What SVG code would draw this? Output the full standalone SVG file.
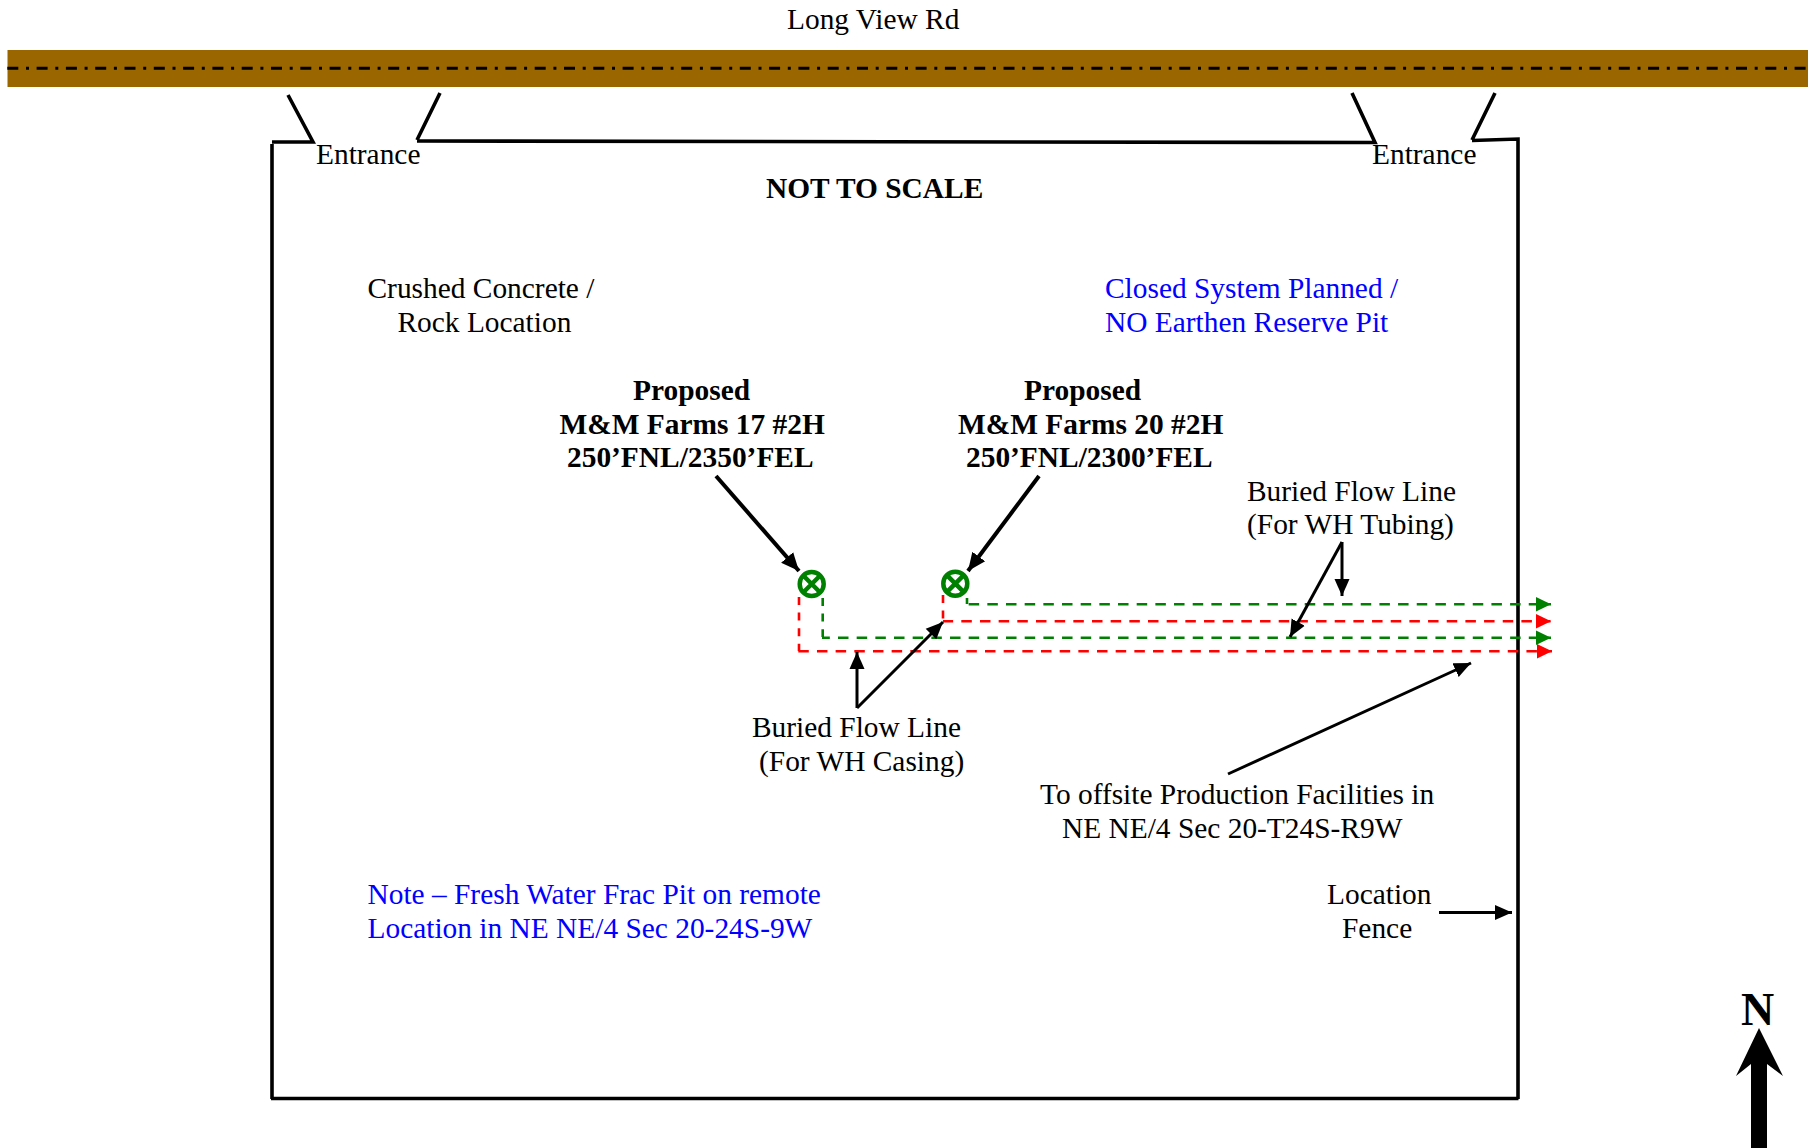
<svg xmlns="http://www.w3.org/2000/svg" width="1814" height="1148" viewBox="0 0 1814 1148">
<style>
text{font-family:"Liberation Serif","Times New Roman",serif;font-size:29.400px;fill:#000}
.b{font-weight:bold}
.blue{fill:#00f}
.fence{stroke:#000;stroke-width:3.600;fill:none;stroke-linecap:butt}
.ar{stroke:#000;stroke-width:3;fill:none;marker-end:url(#ah)}
.art{stroke:#000;stroke-width:4;fill:none;marker-end:url(#aht)}
.g{stroke:#008000;stroke-width:2.600;fill:none;stroke-dasharray:10.500 8.170}
.r{stroke:#f00;stroke-width:2.600;fill:none;stroke-dasharray:10.500 8.170}
.v{stroke-dasharray:8 7.600}
.well circle,.well path{stroke:#008000;stroke-width:4.500;fill:none}
</style>
<defs>
<marker id="ah" markerUnits="userSpaceOnUse" markerWidth="18" markerHeight="18" refX="17" refY="8" orient="auto"><path d="M0 0.500L17 8L0 15.500Z" fill="#000"/></marker>
<marker id="aht" markerUnits="userSpaceOnUse" markerWidth="19" markerHeight="18" refX="18" refY="9" orient="auto"><path d="M0 1L18 9L0 17Z" fill="#000"/></marker>
<marker id="gh" markerUnits="userSpaceOnUse" markerWidth="16" markerHeight="16" refX="15.500" refY="8" orient="auto"><path d="M0 0.500L15.500 8L0 15.500Z" fill="#008000"/></marker>
<marker id="rh" markerUnits="userSpaceOnUse" markerWidth="16" markerHeight="16" refX="15.500" refY="8" orient="auto"><path d="M0 0.500L15.500 8L0 15.500Z" fill="#f00"/></marker>
</defs>
<g id="road">
<rect x="7.500" y="50" width="1800.500" height="37" fill="#996600"/>
<path d="M7.300 68.300H1808" stroke="#000" stroke-width="3" stroke-dasharray="11 7.700 3 7.600" fill="none"/>
<text x="787" y="29">Long View Rd</text>
</g>
<g id="location-fence">
<path class="fence" d="M272 1099V144M272 142H313L288 95M417 140L440 93M417 141L1375 142.500L1352 93M1472 140L1495 93M1472 140.500L1518 139V1099M1518.500 1098.500H271"/>
<text x="316" y="164">Entrance</text>
<text x="1372" y="164">Entrance</text>
</g>
<g id="labels">
<text class="b" x="766" y="198">NOT TO SCALE</text>
<text x="367.500" y="298">Crushed Concrete /</text>
<text x="397.500" y="332">Rock Location</text>
<text class="blue" x="1105" y="298">Closed System Planned /</text>
<text class="blue" x="1105" y="332">NO Earthen Reserve Pit</text>
<text class="blue" x="367.500" y="904">Note – Fresh Water Frac Pit on remote</text>
<text class="blue" x="367.500" y="938">Location in NE NE/4 Sec 20-24S-9W</text>
</g>
<g id="connectors">
<path class="r v" d="M799 597V651"/>
<path class="r" d="M798.300 651.300H1552" marker-end="url(#rh)"/>
<path class="g v" d="M822.700 598V637"/>
<path class="g" d="M822 637.700H1551" stroke-dashoffset="-16" marker-end="url(#gh)"/>
<path class="r v" d="M943 595V621"/>
<path class="r" d="M943 621.300H1551" stroke-dashoffset="0.360" marker-end="url(#rh)"/>
<path class="g v" d="M967 598V604"/>
<path class="g" d="M967 604.300H1551" stroke-dashoffset="-1.660" marker-end="url(#gh)"/>
<path class="art" d="M716 476L799 571"/>
<path class="art" d="M1039 476L968 571"/>
<path class="ar" d="M857 708V652"/>
<path class="ar" d="M857 708L943 622"/>
<path class="ar" d="M1342 542V596"/>
<path class="ar" d="M1342 542L1290 637"/>
<path class="ar" d="M1228 774L1471 663"/>
<path class="ar" d="M1439 912.500H1512"/>
</g>
<g id="well-17" class="well">
<circle cx="811.700" cy="584" r="12"/><path d="M803.200 575.500L820.200 592.500M820.200 575.500L803.200 592.500"/>
<text class="b" x="633" y="400">Proposed</text>
<text class="b" x="559.500" y="434">M&amp;M Farms 17 #2H</text>
<text class="b" x="567" y="467">250’FNL/2350’FEL</text>
</g>
<g id="well-20" class="well">
<circle cx="955.300" cy="583.700" r="12"/><path d="M946.800 575.200L963.800 592.200M963.800 575.200L946.800 592.200"/>
<text class="b" x="1024" y="400">Proposed</text>
<text class="b" x="958" y="434">M&amp;M Farms 20 #2H</text>
<text class="b" x="966" y="467">250’FNL/2300’FEL</text>
</g>
<g id="flow-labels">
<text x="1247" y="501">Buried Flow Line</text>
<text x="1247" y="534">(For WH Tubing)</text>
<text x="752" y="736.500">Buried Flow Line</text>
<text x="759" y="770.500">(For WH Casing)</text>
<text x="1040" y="804">To offsite Production Facilities in</text>
<text x="1062" y="837.500">NE NE/4 Sec 20-T24S-R9W</text>
<text x="1327" y="904">Location</text>
<text x="1342" y="938">Fence</text>
</g>
<g id="north">
<text class="b" x="1741" y="1025" style="font-size:46px">N</text>
<path d="M1759 1028L1783 1076L1767 1064V1148H1751V1064L1736 1076Z" fill="#000"/>
</g>
</svg>
